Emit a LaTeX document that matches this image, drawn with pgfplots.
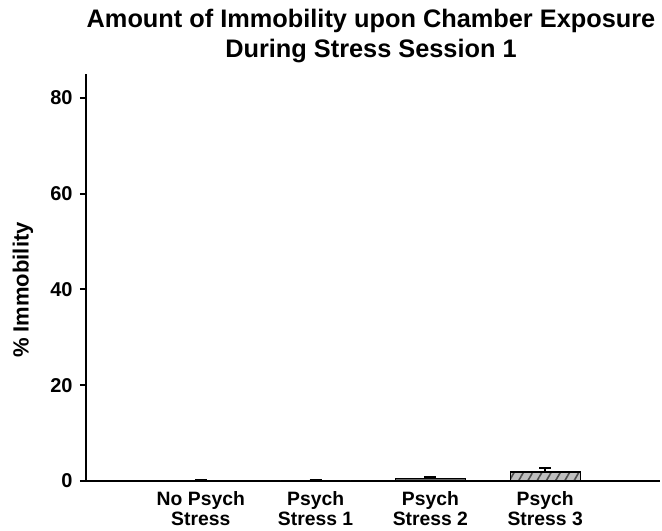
\documentclass[border=0pt]{standalone}
\usepackage{pgfplots}
\pgfplotsset{compat=1.18}
\usepackage{fontspec}
\setmainfont{Liberation Sans}
\usetikzlibrary{patterns.meta}
\begin{document}
\begin{tikzpicture}
\useasboundingbox (0,0) rectangle (496.5pt,398.25pt);
\begin{axis}[
  at={(64.5pt,37.5pt)}, anchor=south west,
  scale only axis, width=430.5pt, height=305.25pt,
  xmin=-1, xmax=4, ymin=0, ymax=85,
  axis x line=bottom, axis y line=left,
  axis line style={-, line width=1.5pt},
  xtick={0,1,2,3},
  xticklabels={{No Psych\\Stress},{Psych\\Stress 1},{Psych\\Stress 2},{Psych\\Stress 3}},
  xticklabel style={align=center, font=\bfseries\fontsize{14.5}{14.5}\selectfont},
  x tick style={draw=none},
  ytick={0,20,40,60,80},
  yticklabel style={font=\bfseries\fontsize{15}{16}\selectfont, xshift=-2pt},
  /pgf/number format/assume math mode=true,
  tick align=outside, major tick length=4.5pt,
  y tick style={line width=1.5pt, black},
  ylabel={\% Immobility},
  ylabel style={font=\bfseries\fontsize{16.5}{18}\selectfont, at={(axis description cs:-0.11,0.469)}, anchor=center},
  ybar, bar width=0.61, bar shift=0pt,
  clip=false,
]
\addplot[draw=black, line width=1pt, fill=white,
  error bars/.cd, y dir=plus, y explicit,
  error bar style={line width=1.5pt, black},
  error mark options={rotate=90, mark size=4.5pt, line width=1.5pt, black}]
  coordinates {(0,0) +- (0,0.3) (1,0) +- (0,0.3)};
\addplot[draw=black, line width=1pt, fill=gray!80!black,
  error bars/.cd, y dir=plus, y explicit,
  error bar style={line width=1.5pt, black},
  error mark options={rotate=90, mark size=4.5pt, line width=1.5pt, black}]
  coordinates {(2,0.5) +- (0,0.4)};
\addplot[draw=black, line width=1pt, fill=black!25,
  postaction={pattern={Lines[angle=60,distance=6pt,line width=1.2pt]}, pattern color=black!70},
  error bars/.cd, y dir=plus, y explicit,
  error bar style={line width=1.5pt, black},
  error mark options={rotate=90, mark size=4.5pt, line width=1.5pt, black}]
  coordinates {(3,1.9) +- (0,0.9)};
\end{axis}
\node[anchor=base, font=\bfseries\fontsize{19}{20}\selectfont] at (278.25pt,377.8pt) {Amount of Immobility upon Chamber Exposure};
\node[anchor=base, font=\bfseries\fontsize{19}{20}\selectfont] at (278.25pt,355.3pt) {During Stress Session 1};
\end{tikzpicture}
\end{document}
